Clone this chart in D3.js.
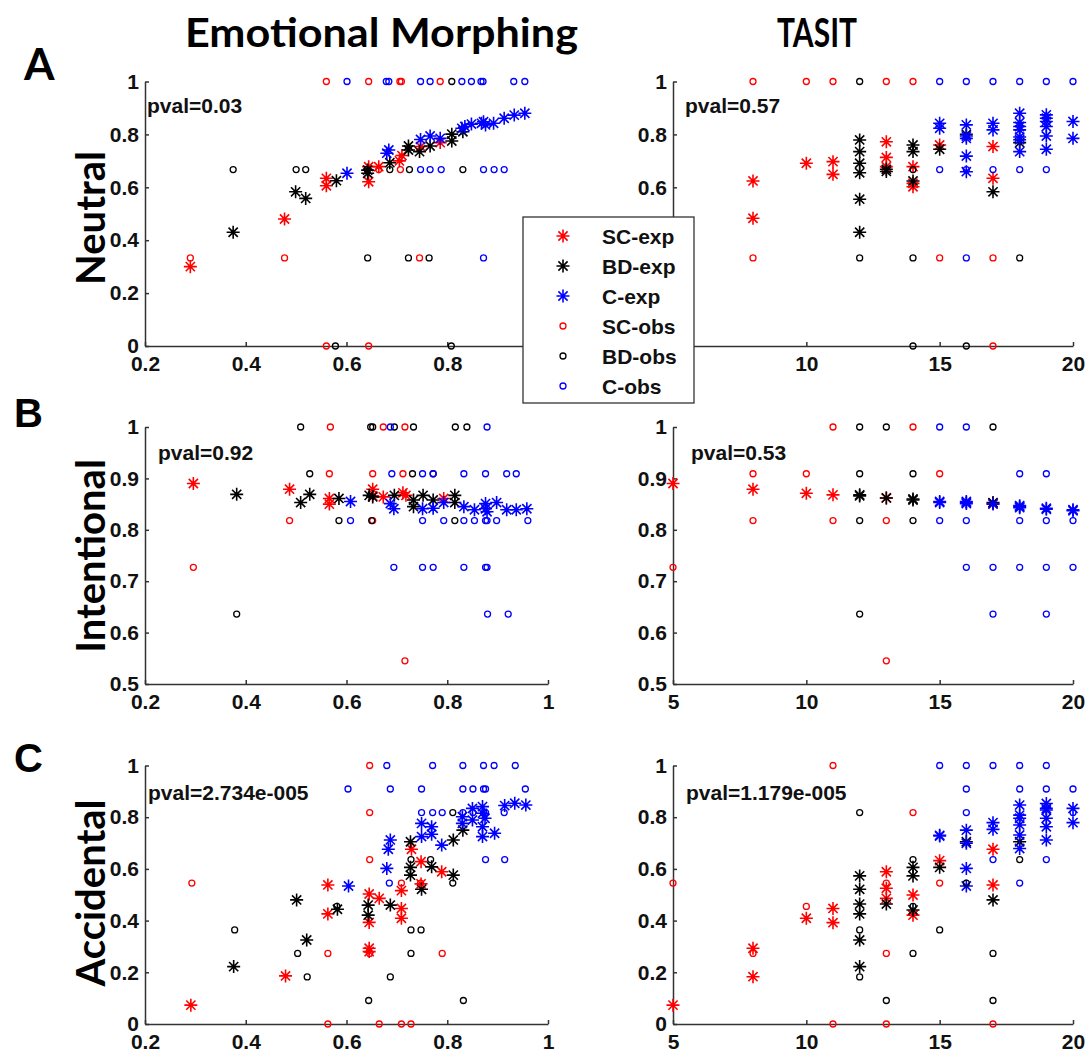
<!DOCTYPE html>
<html>
<head>
<meta charset="utf-8">
<script src="https://cdn.jsdelivr.net/npm/d3@7"></script>
<style>
  body { margin: 0; background: #fff; }
  .tick text { font-family: "Liberation Sans", Arial, sans-serif; font-weight: bold; font-size: 21px; fill: #111; }
  .axis path, .axis line { stroke: #333; stroke-width: 1.5; }
</style>
</head>
<body>
<svg id="chart" width="1088" height="1052"></svg>
<script>
// ---- data ----
const columnTitles = ["Emotional Morphing", "TASIT"];
const rowLetters = ["A", "B", "C"];
const rowNames = ["Neutral", "Intentional", "Accidental"];
const pvalLabels = ["pval=0.03", "pval=0.57", "pval=0.92", "pval=0.53", "pval=2.734e-005", "pval=1.179e-005"];
const legendLabels = ["SC-exp", "BD-exp", "C-exp", "SC-obs", "BD-obs", "C-obs"];

const emTicks = [0.2, 0.4, 0.6, 0.8, 1];
const taTicks = [5, 10, 15, 20];
const unitTicks = [0, 0.2, 0.4, 0.6, 0.8, 1];
const intTicks = [0.5, 0.6, 0.7, 0.8, 0.9, 1];

// Neutral / Emotional Morphing
const neuEmScExp = [[0.29,0.30],[0.477,0.48],[0.56,0.634],[0.56,0.606],[0.644,0.678],[0.644,0.621],[0.664,0.678],[0.705,0.70],[0.71,0.72],[0.747,0.754],[0.786,0.769]];
const neuEmBdExp = [[0.375,0.43],[0.499,0.583],[0.519,0.558],[0.58,0.625],[0.642,0.665],[0.642,0.653],[0.686,0.693],[0.723,0.756],[0.723,0.741],[0.745,0.735],[0.766,0.756],[0.809,0.801],[0.809,0.775],[0.831,0.81]];
const neuEmCExp = [[0.601,0.653],[0.68,0.729],[0.684,0.741],[0.747,0.781],[0.766,0.794],[0.786,0.785],[0.829,0.823],[0.835,0.83],[0.848,0.839],[0.868,0.842],[0.872,0.848],[0.876,0.836],[0.892,0.842],[0.913,0.861],[0.933,0.873],[0.954,0.88]];
const neuEmScObs = [[0.56,1],[0.644,1],[0.706,1],[0.709,1],[0.786,1],[0.664,0.667],[0.707,0.667],[0.29,0.333],[0.477,0.333],[0.745,0.333],[0.56,0],[0.644,0]];
const neuEmBdObs = [[0.809,1],[0.375,0.667],[0.5,0.667],[0.519,0.667],[0.641,0.667],[0.686,0.667],[0.725,0.667],[0.831,0.667],[0.642,0.333],[0.723,0.333],[0.764,0.333],[0.578,0],[0.808,0]];
const neuEmCObs = [[0.601,1],[0.679,1],[0.684,1],[0.747,1],[0.766,1],[0.829,1],[0.848,1],[0.867,1],[0.871,1],[0.932,1],[0.954,1],[0.747,0.667],[0.766,0.667],[0.788,0.667],[0.872,0.667],[0.893,0.667],[0.913,0.667],[0.872,0.333]];

// Neutral / TASIT
const neuTaScExp = [[8,0.624],[8,0.483],[10,0.691],[11,0.697],[11,0.649],[13,0.772],[13,0.713],[13,0.678],[14,0.678],[14,0.615],[14,0.602],[15,0.76],[17,0.754],[17,0.634]];
const neuTaBdExp = [[12,0.779],[12,0.735],[12,0.691],[12,0.655],[12,0.555],[12,0.43],[13,0.668],[13,0.66],[14,0.76],[14,0.735],[14,0.624],[15,0.744],[16,0.8],[17,0.583],[18,0.769]];
const neuTaCExp = [[15,0.842],[15,0.823],[16,0.836],[16,0.794],[16,0.785],[16,0.718],[16,0.659],[17,0.842],[17,0.817],[18,0.88],[18,0.845],[18,0.83],[18,0.817],[18,0.79],[18,0.78],[18,0.735],[19,0.874],[19,0.861],[19,0.849],[19,0.83],[19,0.794],[19,0.744],[20,0.849],[20,0.785]];
const neuTaScObs = [[8,1],[10,1],[11,1],[13,1],[14,1],[8,0.333],[15,0.333],[17,0.333],[17,0]];
const neuTaBdObs = [[12,1],[14,0.667],[12,0.333],[14,0.333],[18,0.333],[14,0],[16,0]];
const neuTaCObs = [[15,1],[16,1],[17,1],[18,1],[19,1],[20,1],[15,0.667],[16,0.667],[17,0.667],[18,0.667],[19,0.667],[16,0.333]];

// Intentional / Emotional Morphing
const intEmScExp = [[0.296,0.89],[0.487,0.879],[0.566,0.861],[0.566,0.85],[0.652,0.879],[0.652,0.866],[0.673,0.864],[0.712,0.872],[0.718,0.867],[0.793,0.861]];
const intEmBdExp = [[0.382,0.869],[0.509,0.853],[0.527,0.869],[0.585,0.861],[0.645,0.867],[0.652,0.864],[0.695,0.867],[0.733,0.858],[0.733,0.845],[0.752,0.867],[0.772,0.858],[0.815,0.867],[0.815,0.853]];
const intEmCExp = [[0.608,0.855],[0.687,0.851],[0.694,0.841],[0.751,0.841],[0.772,0.842],[0.793,0.853],[0.833,0.845],[0.854,0.839],[0.876,0.851],[0.876,0.841],[0.879,0.835],[0.898,0.853],[0.918,0.839],[0.937,0.839],[0.958,0.841]];
const intEmScObs = [[0.568,1],[0.673,1],[0.716,1],[0.566,0.909],[0.652,0.909],[0.712,0.909],[0.487,0.818],[0.652,0.818],[0.296,0.727],[0.716,0.545]];
const intEmBdObs = [[0.509,1],[0.648,1],[0.652,1],[0.695,1],[0.733,1],[0.816,1],[0.839,1],[0.527,0.909],[0.731,0.909],[0.772,0.909],[0.585,0.818],[0.65,0.818],[0.815,0.818],[0.382,0.636]];
const intEmCObs = [[0.687,1],[0.879,1],[0.69,0.909],[0.751,0.909],[0.772,0.909],[0.833,0.909],[0.876,0.909],[0.918,0.909],[0.937,0.909],[0.608,0.818],[0.751,0.818],[0.793,0.818],[0.833,0.818],[0.854,0.818],[0.876,0.818],[0.879,0.818],[0.898,0.818],[0.96,0.818],[0.694,0.727],[0.751,0.727],[0.772,0.727],[0.833,0.727],[0.876,0.727],[0.879,0.727],[0.88,0.636],[0.921,0.636]];

// Intentional / TASIT
const intTaScExp = [[5,0.89],[8,0.879],[10,0.871],[11,0.868],[13,0.862],[17,0.851]];
const intTaBdExp = [[12,0.868],[12,0.866],[13,0.862],[14,0.86],[14,0.858],[17,0.853]];
const intTaCExp = [[15,0.855],[15,0.853],[16,0.853],[16,0.851],[16,0.855],[17,0.85],[18,0.845],[18,0.843],[18,0.847],[19,0.84],[19,0.842],[20,0.839],[20,0.837]];
const intTaScObs = [[11,1],[14,1],[8,0.909],[10,0.909],[15,0.909],[8,0.818],[11,0.818],[13,0.818],[5,0.727],[13,0.545]];
const intTaBdObs = [[12,1],[13,1],[17,1],[12,0.909],[14,0.909],[12,0.818],[14,0.818],[12,0.636]];
const intTaCObs = [[15,1],[16,1],[18,0.909],[19,0.909],[15,0.818],[16,0.818],[18,0.818],[19,0.818],[20,0.818],[16,0.727],[17,0.727],[18,0.727],[19,0.727],[20,0.727],[17,0.636],[19,0.636]];

// Accidental / Emotional Morphing
const accEmScExp = [[0.291,0.073],[0.479,0.186],[0.563,0.538],[0.563,0.426],[0.645,0.503],[0.645,0.393],[0.645,0.293],[0.645,0.28],[0.665,0.486],[0.709,0.516],[0.709,0.447],[0.709,0.409],[0.729,0.676],[0.748,0.628],[0.748,0.542],[0.789,0.589]];
const accEmBdExp = [[0.376,0.222],[0.501,0.48],[0.521,0.325],[0.582,0.444],[0.643,0.46],[0.643,0.421],[0.687,0.46],[0.727,0.705],[0.727,0.606],[0.727,0.576],[0.749,0.521],[0.769,0.608],[0.812,0.712],[0.812,0.576],[0.831,0.75]];
const accEmCExp = [[0.604,0.534],[0.68,0.602],[0.683,0.676],[0.687,0.712],[0.749,0.725],[0.749,0.776],[0.769,0.763],[0.769,0.734],[0.789,0.692],[0.83,0.802],[0.83,0.776],[0.85,0.834],[0.85,0.789],[0.87,0.841],[0.87,0.815],[0.875,0.796],[0.87,0.763],[0.87,0.725],[0.894,0.738],[0.914,0.845],[0.934,0.854],[0.956,0.847]];
const accEmScObs = [[0.646,1],[0.646,0.818],[0.646,0.636],[0.293,0.545],[0.709,0.545],[0.747,0.545],[0.563,0.273],[0.646,0.273],[0.79,0.273],[0.563,0],[0.665,0],[0.709,0],[0.728,0]];
const accEmBdObs = [[0.811,0.818],[0.728,0.636],[0.767,0.636],[0.811,0.545],[0.581,0.455],[0.378,0.364],[0.728,0.364],[0.748,0.364],[0.503,0.273],[0.728,0.273],[0.522,0.182],[0.687,0.182],[0.644,0.091],[0.832,0.091]];
const accEmCObs = [[0.68,1],[0.771,1],[0.831,1],[0.872,1],[0.893,1],[0.935,1],[0.603,0.909],[0.687,0.909],[0.749,0.909],[0.831,0.909],[0.851,0.909],[0.872,0.909],[0.876,0.909],[0.955,0.909],[0.749,0.818],[0.771,0.818],[0.79,0.818],[0.831,0.818],[0.851,0.818],[0.872,0.818],[0.876,0.818],[0.913,0.818],[0.876,0.636],[0.914,0.636],[0.685,0.545]];

// Accidental / TASIT
const accTaScExp = [[5,0.073],[8,0.293],[8,0.183],[10,0.409],[11,0.447],[11,0.392],[13,0.589],[13,0.525],[13,0.486],[14,0.499],[14,0.421],[15,0.632],[17,0.676],[17,0.538]];
const accTaBdExp = [[12,0.573],[12,0.521],[12,0.464],[12,0.426],[12,0.325],[12,0.222],[13,0.464],[14,0.606],[14,0.573],[14,0.441],[15,0.606],[16,0.705],[17,0.48],[18,0.705]];
const accTaCExp = [[15,0.727],[15,0.73],[16,0.75],[16,0.699],[16,0.602],[16,0.534],[17,0.779],[17,0.753],[18,0.847],[18,0.808],[18,0.796],[18,0.77],[18,0.731],[18,0.679],[19,0.853],[19,0.834],[19,0.828],[19,0.796],[19,0.763],[19,0.712],[20,0.834],[20,0.779]];
const accTaScObs = [[5,0.545],[8,0.273],[10,0.455],[11,1],[11,0],[13,0.545],[13,0.273],[13,0],[14,0.818],[15,0.545],[17,0]];
const accTaBdObs = [[12,0.818],[12,0.364],[12,0.182],[13,0.091],[14,0.636],[14,0.455],[14,0.273],[15,0.364],[16,0.545],[17,0.273],[17,0.091],[18,0.636]];
const accTaCObs = [[15,1],[16,1],[16,0.909],[16,0.818],[17,1],[17,0.636],[18,1],[18,0.909],[18,0.545],[19,1],[19,0.909],[19,0.636],[20,0.909],[20,0.818]];

// ---- layout ----
const colX = [[145, 548], [673, 1073]];
const rowY = [[346, 81.5], [684, 427], [1024, 765.5]];
const pvalPos = [[147, 113], [685, 113], [158, 460], [691, 460], [148, 800], [686, 800]];
const colors = ["#ff0000", "#000000", "#0000ff"];
const starPath = "M-6.5,0H6.5M0,-6.5V6.5M-4.6,-4.6L4.6,4.6M-4.6,4.6L4.6,-4.6";

const panels = [
  {row: 0, col: 0, exp: [neuEmScExp, neuEmBdExp, neuEmCExp], obs: [neuEmScObs, neuEmBdObs, neuEmCObs], hideX: [1], hideY: []},
  {row: 0, col: 1, exp: [neuTaScExp, neuTaBdExp, neuTaCExp], obs: [neuTaScObs, neuTaBdObs, neuTaCObs], hideX: [5], hideY: [0, 0.2, 0.4]},
  {row: 1, col: 0, exp: [intEmScExp, intEmBdExp, intEmCExp], obs: [intEmScObs, intEmBdObs, intEmCObs], hideX: [], hideY: []},
  {row: 1, col: 1, exp: [intTaScExp, intTaBdExp, intTaCExp], obs: [intTaScObs, intTaBdObs, intTaCObs], hideX: [], hideY: []},
  {row: 2, col: 0, exp: [accEmScExp, accEmBdExp, accEmCExp], obs: [accEmScObs, accEmBdObs, accEmCObs], hideX: [], hideY: []},
  {row: 2, col: 1, exp: [accTaScExp, accTaBdExp, accTaCExp], obs: [accTaScObs, accTaBdObs, accTaCObs], hideX: [], hideY: []}
];

const svg = d3.select("#chart");
const fmt = d => String(Math.round(d * 10) / 10);

panels.forEach(function(p, i) {
  let xTicks = p.col === 0 ? emTicks : taTicks;
  let yTicks = p.row === 1 ? intTicks : unitTicks;
  let x = d3.scaleLinear().domain(d3.extent(xTicks)).range(colX[p.col]);
  let y = d3.scaleLinear().domain(d3.extent(yTicks)).range(rowY[p.row]);

  let g = svg.append("g");

  // labels that sit under the legend box in the original are left empty
  g.append("g")
    .attr("class", "axis")
    .attr("transform", "translate(0," + rowY[p.row][0] + ")")
    .call(d3.axisBottom(x).tickValues(xTicks)
      .tickFormat(d => p.hideX.includes(d) ? "" : fmt(d))
      .tickSize(-4).tickSizeOuter(0).tickPadding(10));

  g.append("g")
    .attr("class", "axis")
    .attr("transform", "translate(" + colX[p.col][0] + ",0)")
    .call(d3.axisLeft(y).tickValues(yTicks)
      .tickFormat(d => p.hideY.includes(d) ? "" : fmt(d))
      .tickSize(-4).tickSizeOuter(0).tickPadding(6));

  g.selectAll(".axis .domain").attr("fill", "none");

  // expected values (stars)
  p.exp.forEach(function(series, k) {
    g.append("g").selectAll("path")
      .data(series)
      .enter()
      .append("path")
      .attr("d", starPath)
      .attr("transform", d => "translate(" + x(d[0]) + "," + y(d[1]) + ")")
      .attr("fill", "none")
      .attr("stroke", colors[k])
      .attr("stroke-width", 1.6);
  });

  // observed values (circles)
  p.obs.forEach(function(series, k) {
    g.append("g").selectAll("circle")
      .data(series)
      .enter()
      .append("circle")
      .attr("cx", d => x(d[0]))
      .attr("cy", d => y(d[1]))
      .attr("r", 3)
      .attr("fill", "none")
      .attr("stroke", colors[k])
      .attr("stroke-width", 1.3);
  });

  g.append("text")
    .attr("x", pvalPos[i][0])
    .attr("y", pvalPos[i][1])
    .attr("font-family", "Liberation Sans, Arial, sans-serif")
    .attr("font-weight", "bold")
    .attr("font-size", 21)
    .attr("fill", "#111")
    .text(pvalLabels[i]);
});

// column titles
const titleX = [381.5, 817];
const titleW = [393, 80];
columnTitles.forEach(function(t, i) {
  svg.append("text")
    .attr("x", titleX[i] - titleW[i] / 2)
    .attr("y", 47)
    .attr("textLength", titleW[i])
    .attr("lengthAdjust", "spacingAndGlyphs")
    .attr("font-family", "Lato, 'Open Sans', sans-serif")
    .attr("font-weight", "bold")
    .attr("font-size", 40)
    .attr("fill", "#000")
    .text(t);
});

// row letters and names
const letterX = [24, 14, 14];
const letterY = [80, 427, 772];
const nameY = [218, 556, 893];
rowLetters.forEach(function(t, i) {
  svg.append("text")
    .attr("x", letterX[i])
    .attr("y", letterY[i])
    .attr("font-family", i === 0 ? "Lato, sans-serif" : "Liberation Sans, Arial, sans-serif")
    .attr("font-weight", "bold")
    .attr("font-size", i === 0 ? 44 : 40)
    .attr("fill", "#000")
    .text(t);
});
rowNames.forEach(function(t, i) {
  svg.append("text")
    .attr("transform", "translate(105," + nameY[i] + ") rotate(-90)")
    .attr("text-anchor", "middle")
    .attr("font-family", "Lato, sans-serif")
    .attr("font-weight", "bold")
    .attr("font-size", 40)
    .attr("fill", "#000")
    .text(t);
});

// legend
const legend = svg.append("g");
legend.append("rect")
  .attr("x", 523).attr("y", 217)
  .attr("width", 171).attr("height", 186)
  .attr("fill", "#fff")
  .attr("stroke", "#333")
  .attr("stroke-width", 1.3);
legendLabels.forEach(function(t, i) {
  let cy = 236 + i * 30;
  if (i < 3) {
    legend.append("path")
      .attr("d", starPath)
      .attr("transform", "translate(563," + cy + ")")
      .attr("fill", "none")
      .attr("stroke", colors[i])
      .attr("stroke-width", 1.6);
  } else {
    legend.append("circle")
      .attr("cx", 563).attr("cy", cy).attr("r", 3)
      .attr("fill", "none")
      .attr("stroke", colors[i - 3])
      .attr("stroke-width", 1.3);
  }
  legend.append("text")
    .attr("x", 602)
    .attr("y", cy + 7.5)
    .attr("font-family", "Liberation Sans, Arial, sans-serif")
    .attr("font-weight", "bold")
    .attr("font-size", 21)
    .attr("fill", "#111")
    .text(t);
});
</script>
</body>
</html>
